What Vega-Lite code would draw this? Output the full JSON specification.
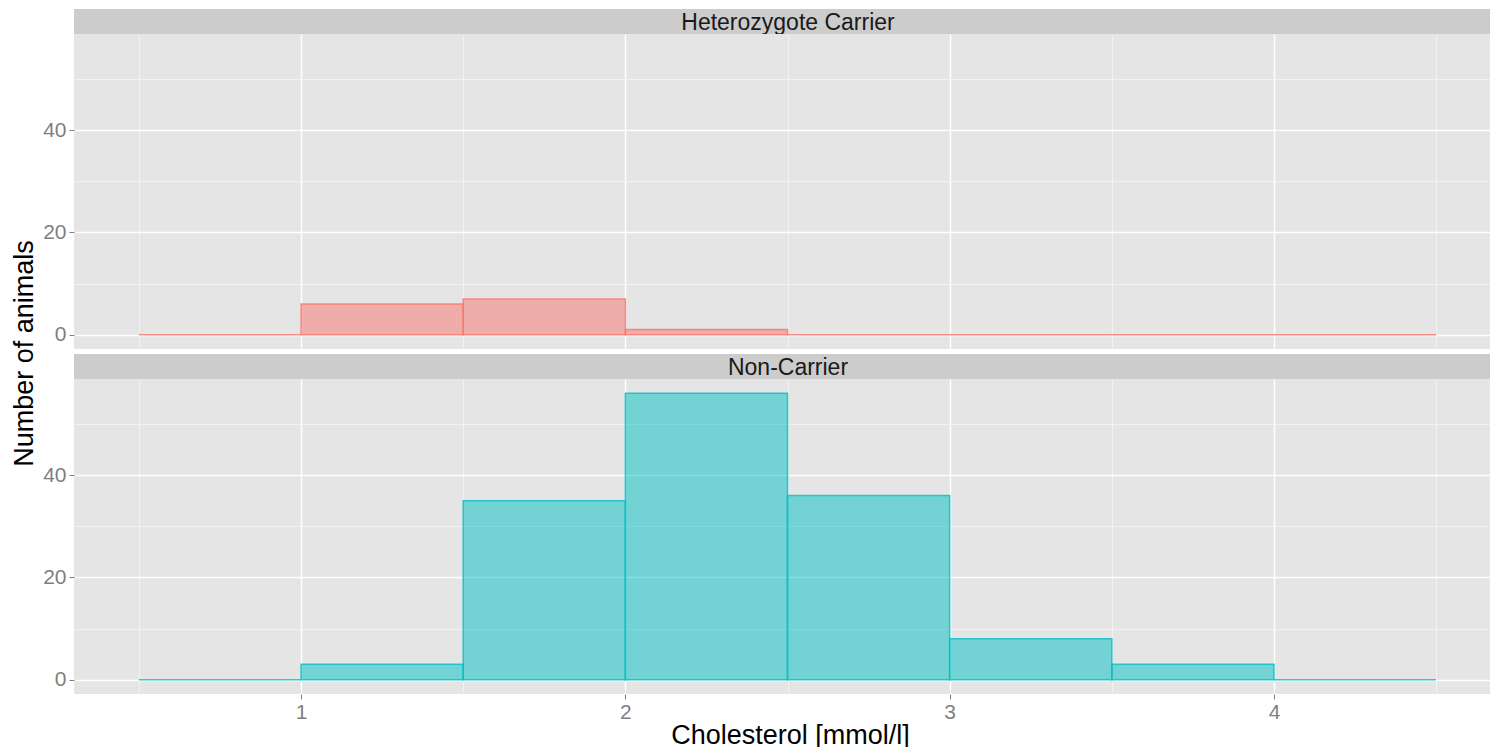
{
  "$schema": "https://vega.github.io/schema/vega-lite/v6.json",
  "padding": {"left": 9, "top": 9, "right": 0, "bottom": 0},
  "background": "white",
  "datasets": {
    "panels": [
      {"group": "Heterozygote Carrier"},
      {"group": "Non-Carrier"}
    ],
    "hist": [
      {"group": "Heterozygote Carrier", "bin_start": 0.5, "bin_end": 1.0, "count": 0},
      {"group": "Heterozygote Carrier", "bin_start": 1.0, "bin_end": 1.5, "count": 6},
      {"group": "Heterozygote Carrier", "bin_start": 1.5, "bin_end": 2.0, "count": 7},
      {"group": "Heterozygote Carrier", "bin_start": 2.0, "bin_end": 2.5, "count": 1},
      {"group": "Heterozygote Carrier", "bin_start": 2.5, "bin_end": 3.0, "count": 0},
      {"group": "Heterozygote Carrier", "bin_start": 3.0, "bin_end": 3.5, "count": 0},
      {"group": "Heterozygote Carrier", "bin_start": 3.5, "bin_end": 4.0, "count": 0},
      {"group": "Heterozygote Carrier", "bin_start": 4.0, "bin_end": 4.5, "count": 0},
      {"group": "Non-Carrier", "bin_start": 0.5, "bin_end": 1.0, "count": 0},
      {"group": "Non-Carrier", "bin_start": 1.0, "bin_end": 1.5, "count": 3},
      {"group": "Non-Carrier", "bin_start": 1.5, "bin_end": 2.0, "count": 35},
      {"group": "Non-Carrier", "bin_start": 2.0, "bin_end": 2.5, "count": 56},
      {"group": "Non-Carrier", "bin_start": 2.5, "bin_end": 3.0, "count": 36},
      {"group": "Non-Carrier", "bin_start": 3.0, "bin_end": 3.5, "count": 8},
      {"group": "Non-Carrier", "bin_start": 3.5, "bin_end": 4.0, "count": 3},
      {"group": "Non-Carrier", "bin_start": 4.0, "bin_end": 4.5, "count": 0}
    ]
  },
  "spacing": 0,
  "bounds": "flush",
  "vconcat": [
    {
      "width": 1416, "height": 25,
      "view": {"fill": "#CCCCCC", "stroke": null},
      "data": {"name": "panels"},
      "transform": [{"filter": "datum.group === 'Heterozygote Carrier'"}],
      "mark": {"type": "text", "fontSize": 23, "color": "#1A1A1A", "baseline": "middle", "dx": 6, "dy": 1},
      "encoding": {"text": {"field": "group", "type": "nominal"}}
    },
    {
      "width": 1416, "height": 315,
      "data": {"name": "hist"},
      "transform": [{"filter": "datum.group === 'Heterozygote Carrier'"}],
      "layer": [
        {
          "mark": {"type": "rect", "opacity": 0},
          "encoding": {
            "x": {"field": "bin_start", "type": "quantitative", "scale": {"domain": [0.3, 4.666], "nice": false, "zero": false},
                  "axis": {"orient": "top", "values": [0.5, 1.5, 2.5, 3.5, 4.5], "grid": true, "gridColor": "#F2F2F2", "gridWidth": 1, "labels": false, "ticks": false, "domain": false, "title": null}},
            "x2": {"field": "bin_end"},
            "y": {"field": "count", "type": "quantitative", "scale": {"domain": [-2.8, 58.8], "nice": false, "zero": false},
                  "axis": {"orient": "right", "values": [10, 30, 50], "grid": true, "gridColor": "#F2F2F2", "gridWidth": 1, "labels": false, "ticks": false, "domain": false, "title": null}},
            "y2": {"datum": 0}
          }
        },
        {
          "mark": {"type": "rect", "fillOpacity": 0.5, "strokeWidth": 1.5, "strokeOpacity": 0.8},
          "encoding": {
            "x": {"field": "bin_start", "type": "quantitative", "scale": {"domain": [0.3, 4.666], "nice": false, "zero": false},
                  "axis": {"orient": "bottom", "values": [1, 2, 3, 4], "grid": true, "gridColor": "white", "gridWidth": 1.5, "labels": false, "ticks": false, "domain": false, "title": null}},
            "x2": {"field": "bin_end"},
            "y": {"field": "count", "type": "quantitative", "scale": {"domain": [-2.8, 58.8], "nice": false, "zero": false},
                  "axis": {"orient": "left", "values": [0, 20, 40], "grid": true, "gridColor": "white", "gridWidth": 1.5, "labelFontSize": 21, "labelColor": "#7F7F7F", "tickColor": "#7F7F7F", "tickSize": 5, "labelPadding": 3, "domain": false, "title": null}},
            "y2": {"datum": 0},
            "fill": {"field": "group", "type": "nominal", "scale": {"domain": ["Heterozygote Carrier", "Non-Carrier"], "range": ["#F8766D", "#00BFC4"]}, "legend": null},
            "stroke": {"field": "group", "type": "nominal", "scale": {"domain": ["Heterozygote Carrier", "Non-Carrier"], "range": ["#F8766D", "#00BFC4"]}, "legend": null}
          }
        }
      ],
      "resolve": {"axis": {"x": "independent", "y": "independent"}}
    },
    {
      "width": 1416, "height": 5,
      "view": {"fill": "white", "stroke": null},
      "data": {"name": "panels"},
      "transform": [{"filter": "false"}],
      "mark": {"type": "text"},
      "encoding": {"text": {"field": "group", "type": "nominal"}}
    },
    {
      "width": 1416, "height": 25,
      "view": {"fill": "#CCCCCC", "stroke": null},
      "data": {"name": "panels"},
      "transform": [{"filter": "datum.group === 'Non-Carrier'"}],
      "mark": {"type": "text", "fontSize": 23, "color": "#1A1A1A", "baseline": "middle", "dx": 6, "dy": 1},
      "encoding": {"text": {"field": "group", "type": "nominal"}}
    },
    {
      "width": 1416, "height": 315,
      "data": {"name": "hist"},
      "transform": [{"filter": "datum.group === 'Non-Carrier'"}],
      "layer": [
        {
          "mark": {"type": "rect", "opacity": 0},
          "encoding": {
            "x": {"field": "bin_start", "type": "quantitative", "scale": {"domain": [0.3, 4.666], "nice": false, "zero": false},
                  "axis": {"orient": "top", "values": [0.5, 1.5, 2.5, 3.5, 4.5], "grid": true, "gridColor": "#F2F2F2", "gridWidth": 1, "labels": false, "ticks": false, "domain": false, "title": null}},
            "x2": {"field": "bin_end"},
            "y": {"field": "count", "type": "quantitative", "scale": {"domain": [-2.8, 58.8], "nice": false, "zero": false},
                  "axis": {"orient": "right", "values": [10, 30, 50], "grid": true, "gridColor": "#F2F2F2", "gridWidth": 1, "labels": false, "ticks": false, "domain": false, "title": null}},
            "y2": {"datum": 0}
          }
        },
        {
          "mark": {"type": "rect", "fillOpacity": 0.5, "strokeWidth": 1.5, "strokeOpacity": 0.8},
          "encoding": {
            "x": {"field": "bin_start", "type": "quantitative", "scale": {"domain": [0.3, 4.666], "nice": false, "zero": false},
                  "axis": {"orient": "bottom", "values": [1, 2, 3, 4], "format": "d", "grid": true, "gridColor": "white", "gridWidth": 1.5, "labelFontSize": 21, "labelColor": "#7F7F7F", "tickColor": "#7F7F7F", "tickSize": 5, "labelPadding": 2, "domain": false,
                           "title": "Cholesterol [mmol/l]", "titleFontSize": 27, "titleFontWeight": "normal", "titleColor": "black", "titlePadding": 0, "titleX": 716, "titleAlign": "center"}},
            "x2": {"field": "bin_end"},
            "y": {"field": "count", "type": "quantitative", "scale": {"domain": [-2.8, 58.8], "nice": false, "zero": false},
                  "axis": {"orient": "left", "values": [0, 20, 40], "grid": true, "gridColor": "white", "gridWidth": 1.5, "labelFontSize": 21, "labelColor": "#7F7F7F", "tickColor": "#7F7F7F", "tickSize": 5, "labelPadding": 3, "domain": false,
                           "title": "Number of animals", "titleFontSize": 27, "titleFontWeight": "normal", "titleColor": "black", "titleAngle": 270, "titleX": -50, "titleY": -26, "titleAlign": "center", "titleBaseline": "middle"}},
            "y2": {"datum": 0},
            "fill": {"field": "group", "type": "nominal", "scale": {"domain": ["Heterozygote Carrier", "Non-Carrier"], "range": ["#F8766D", "#00BFC4"]}, "legend": null},
            "stroke": {"field": "group", "type": "nominal", "scale": {"domain": ["Heterozygote Carrier", "Non-Carrier"], "range": ["#F8766D", "#00BFC4"]}, "legend": null}
          }
        }
      ],
      "resolve": {"axis": {"x": "independent", "y": "independent"}}
    }
  ],
  "config": {
    "font": "Liberation Sans",
    "view": {"stroke": null, "fill": "#E5E5E5"},
    "axis": {"labelFont": "Liberation Sans", "titleFont": "Liberation Sans"}
  }
}
